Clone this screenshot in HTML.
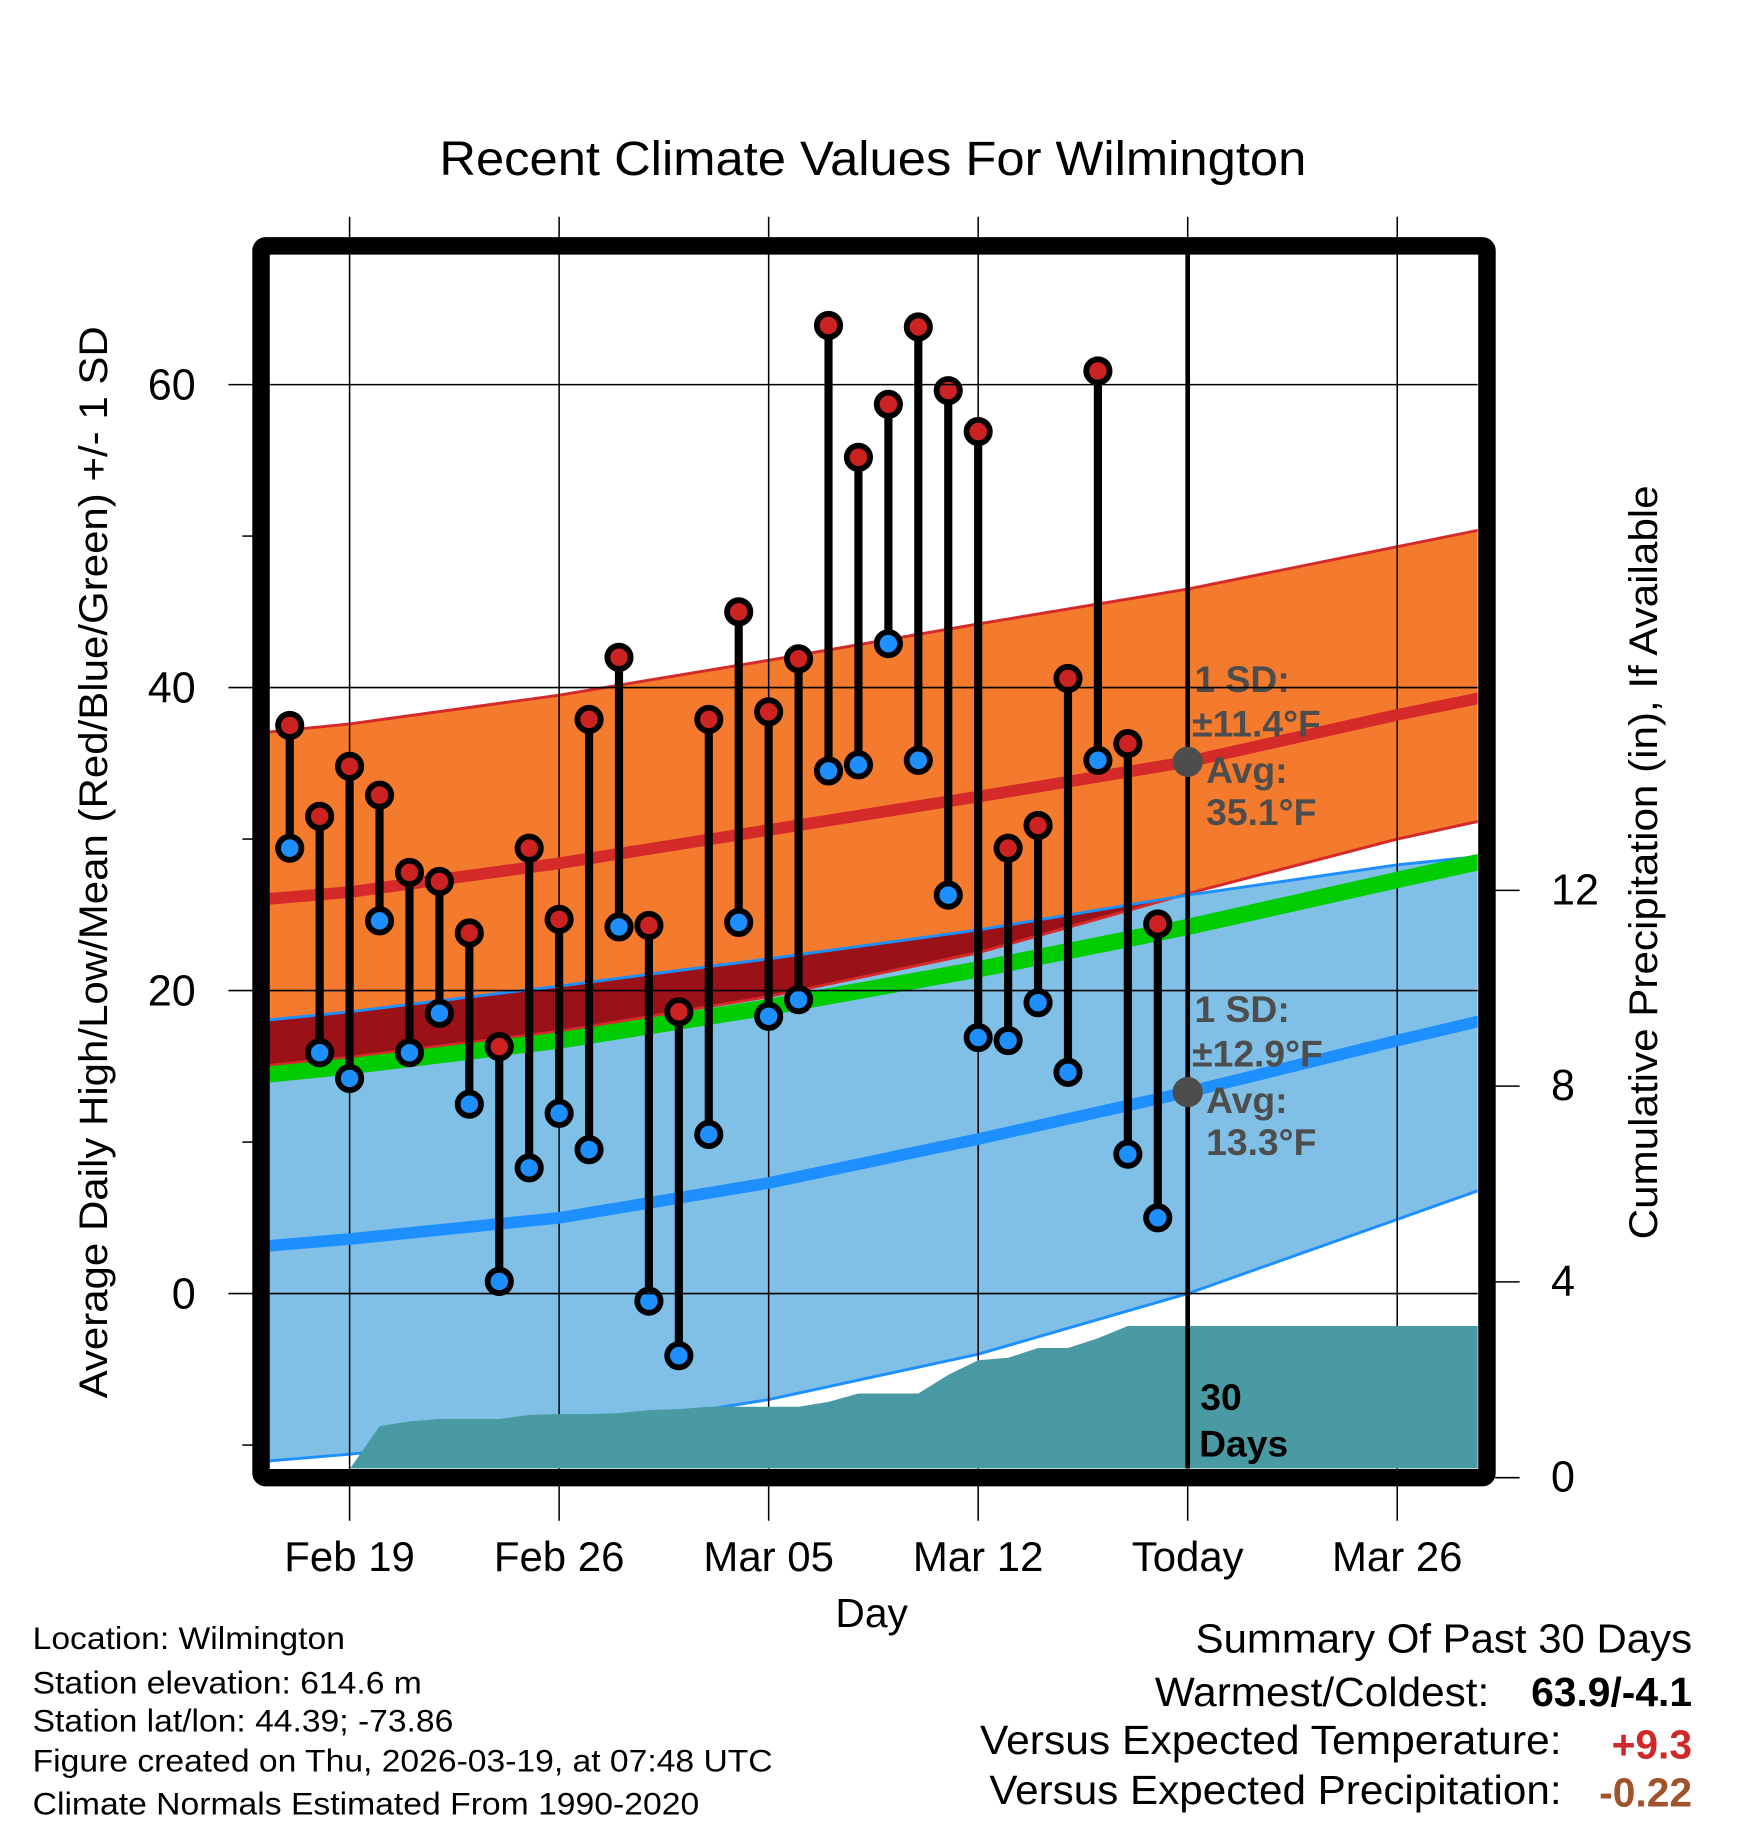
<!DOCTYPE html>
<html><head><meta charset="utf-8"><style>
html,body{margin:0;padding:0;background:#fff}
svg{display:block}
text{font-family:"Liberation Sans",Arial,sans-serif}
</style></head><body>
<svg id="chart" width="1748" height="1828" viewBox="0 0 1500 1568.6" preserveAspectRatio="none" xmlns="http://www.w3.org/2000/svg">
<defs><clipPath id="plotclip"><rect x="231" y="218" width="1037" height="1042"/></clipPath></defs>
<g id="layer" clip-path="url(#plotclip)"></g>
<g id="axes"></g>
<text x="377" y="150" font-size="41" textLength="744" lengthAdjust="spacingAndGlyphs">Recent Climate Values For Wilmington</text>
<text transform="translate(92,740) rotate(-90)" font-size="34" text-anchor="middle" textLength="920" lengthAdjust="spacingAndGlyphs">Average Daily High/Low/Mean (Red/Blue/Green) +/- 1 SD</text>
<text transform="translate(1422,740) rotate(-90)" font-size="34" text-anchor="middle" textLength="647" lengthAdjust="spacingAndGlyphs">Cumulative Precipitation (in), If Available</text>
<text x="748" y="1396" font-size="35" text-anchor="middle">Day</text>
<g font-size="27">
<text x="28" y="1415" textLength="268" lengthAdjust="spacingAndGlyphs">Location: Wilmington</text>
<text x="28" y="1453" textLength="334" lengthAdjust="spacingAndGlyphs">Station elevation: 614.6 m</text>
<text x="28" y="1486" textLength="361" lengthAdjust="spacingAndGlyphs">Station lat/lon: 44.39; -73.86</text>
<text x="28" y="1520" textLength="635" lengthAdjust="spacingAndGlyphs">Figure created on Thu, 2026-03-19, at 07:48 UTC</text>
<text x="28" y="1557" textLength="572" lengthAdjust="spacingAndGlyphs">Climate Normals Estimated From 1990-2020</text>
</g>
<g font-size="35">
<text x="1026" y="1418" textLength="426" lengthAdjust="spacingAndGlyphs">Summary Of Past 30 Days</text>
<text x="991" y="1464" textLength="287" lengthAdjust="spacingAndGlyphs">Warmest/Coldest:</text>
<text x="1452" y="1464" text-anchor="end" font-weight="bold">63.9/-4.1</text>
<text x="841" y="1505" textLength="499" lengthAdjust="spacingAndGlyphs">Versus Expected Temperature:</text>
<text x="1452" y="1509" text-anchor="end" font-weight="bold" fill="#d02828">+9.3</text>
<text x="849" y="1548" textLength="491" lengthAdjust="spacingAndGlyphs">Versus Expected Precipitation:</text>
<text x="1452" y="1550" text-anchor="end" font-weight="bold" fill="#a0522d">-0.22</text>
</g>
<script>
const days=[-2,-1,0,1,2,3,4,5,6,7,8,9,10,11,12,13,14,15,16,17,18,19,20,21,22,23,24,25,26,27];
const highs=[37.5,31.5,34.8,32.9,27.8,27.2,23.8,16.3,29.4,24.7,37.9,42.0,24.3,18.6,37.9,45.0,38.4,41.9,63.9,55.2,58.7,63.8,59.6,56.9,29.4,30.9,40.6,60.9,36.3,24.4];
const lows=[29.4,15.9,14.2,24.6,15.9,18.5,12.5,0.8,8.3,11.9,9.5,24.2,-0.5,-4.1,10.5,24.5,18.3,19.4,34.5,34.9,42.9,35.2,26.3,16.9,16.7,19.2,14.6,35.2,9.2,5.0];
const precipDays=[-2,-1,-0.2,1,2,3,4,5,6,7,8,9,10,11,12,13,14,15,16,17,18,19,20,21,22,23,24,25,26,27,28,38];
const precip=[0,0,0,1.05,1.15,1.2,1.2,1.2,1.28,1.3,1.3,1.32,1.38,1.4,1.45,1.45,1.45,1.45,1.55,1.72,1.72,1.72,2.1,2.4,2.45,2.65,2.65,2.85,3.1,3.1,3.1,3.1];
const normDays=[-3,0,7,14,21,28,35,38];
const highAvg=[26.0,26.5,28.4,30.6,32.8,35.1,38.2,39.4];
const highUpper=[37.0,37.6,39.5,41.8,44.2,46.5,49.3,50.5];
const highLower=[15.0,15.6,17.3,19.6,22.5,26.4,30.0,31.3];
const lowAvg=[3.1,3.6,5.0,7.3,10.2,13.3,16.7,18.1];
const lowUpper=[18.0,18.6,20.3,22.1,24.0,26.3,28.3,28.9];
const lowLower=[-11.1,-10.6,-9.2,-7.0,-4.0,0.0,4.9,7.0];
const meanT=[14.4,15.0,16.7,18.9,21.4,24.2,27.3,28.6];
const yTicks=[0,20,40,60];
const yMinor=[-10,10,30,50];
const pTicks=[0,4,8,12];
const xTickDays=[0,7,14,21,28,35];
const xTickLabels=["Feb 19","Feb 26","Mar 05","Mar 12","Today","Mar 26"];
const todayDay=28;

const X=d=>300+d*(899/35);
const Y=t=>1110-t*13;
const P=p=>1268-p*42;
const NS='http://www.w3.org/2000/svg';
const layer=document.getElementById('layer');
const axes=document.getElementById('axes');
function mk(tag,attrs,parent){const e=document.createElementNS(NS,tag);for(const k in attrs)e.setAttribute(k,attrs[k]);parent.appendChild(e);return e;}
function line(vals){return normDays.map((d,i)=>X(d)+','+Y(vals[i])).join(' ');}
function band(up,lo){return normDays.map((d,i)=>X(d)+','+Y(up[i])).concat(normDays.slice().reverse().map((d,j)=>{const i=normDays.length-1-j;return X(d)+','+Y(lo[i]);})).join(' ');}

const clipB=mk('clipPath',{id:'lowclip'},document.querySelector('defs'));
mk('polygon',{points:band(lowUpper,lowLower)},clipB);

let e;
e=mk('polygon',{points:band(lowUpper,lowLower),fill:'#80c0e6'},layer);


e=mk('polygon',{points:band(highUpper,highLower),fill:'#f47a2e'},layer);


e=mk('polygon',{points:band(highUpper,highLower),fill:'#9a1118','clip-path':'url(#lowclip)'},layer);


[[highUpper,'#d42a2a'],[highLower,'#d42a2a'],[lowUpper,'#1e8fff'],[lowLower,'#1e8fff']].forEach(([v,c])=>{
  e=mk('polyline',{points:line(v),fill:'none',stroke:c,'stroke-width':2.5},layer);
  
  
});
yTicks.forEach(t=>{e=mk('line',{x1:196,x2:1268,y1:Y(t),y2:Y(t),stroke:'#000','stroke-width':1.3},axes);
  
  });
const vg=document.createElementNS(NS,'g');
document.getElementById('chart').insertBefore(vg,axes);
xTickDays.forEach(d=>{e=mk('line',{x1:X(d),x2:X(d),y1:186,y2:1305,stroke:'#000','stroke-width':1.3},vg);
  
  });
const pp=precipDays.map((d,i)=>X(d)+','+P(precip[i]));
pp.push(X(38)+','+P(0));pp.unshift(X(-2)+','+P(0));
const pg=mk('g',{'clip-path':'url(#plotclip)'},document.getElementById('chart'));
document.getElementById('chart').insertBefore(pg,axes);
e=mk('polygon',{points:pp.join(' '),fill:'#4a9aa3'},pg);


e=mk('polyline',{points:line(meanT),fill:'none',stroke:'#00cc00','stroke-width':14},pg);


e=mk('polyline',{points:line(highAvg),fill:'none',stroke:'#d42a2a','stroke-width':10},pg);


e=mk('polyline',{points:line(lowAvg),fill:'none',stroke:'#1e8fff','stroke-width':10},pg);


e=mk('line',{x1:X(todayDay),x2:X(todayDay),y1:218,y2:1262,stroke:'#000','stroke-width':4},pg);


days.forEach((d,i)=>{
  e=mk('line',{x1:X(d),x2:X(d),y1:Y(highs[i]),y2:Y(lows[i]),stroke:'#000','stroke-width':7},pg);
  
  
});
days.forEach((d,i)=>{
  e=mk('circle',{cx:X(d),cy:Y(highs[i]),r:10,fill:'#cc2222',stroke:'#000','stroke-width':5},pg);
  
  
  e=mk('circle',{cx:X(d),cy:Y(lows[i]),r:10,fill:'#1e8fff',stroke:'#000','stroke-width':5},pg);
  
  
});
const ann=mk('g',{fill:'#4d4d4d','font-weight':'bold','font-size':32},pg);


[[highAvg[5],'11.4','35.1',584],[lowAvg[5],'12.9','13.3',867]].forEach(([v,sd,av,y0])=>{
  e=mk('circle',{cx:X(todayDay),cy:Y(v),r:13,fill:'#4d4d4d'},ann);
  
  
  [['1 SD:',1025,y0+10],['±'+sd+'°F',1023,y0+48],['Avg:',1035,y0+88],[av+'°F',1035,y0+124]].forEach(([t,x,y])=>{
    e=mk('text',{x:x,y:y},ann);e.textContent=t;
    
    
  });
});
e=mk('text',{x:1030,y:1210,'font-size':32,'font-weight':'bold'},pg);e.textContent='30';


e=mk('text',{x:1029,y:1250,'font-size':32,'font-weight':'bold'},pg);e.textContent='Days';


e=mk('rect',{x:224,y:211,width:1052,height:1057,fill:'none',stroke:'#000','stroke-width':15,rx:4},axes);


yTicks.forEach(t=>{e=mk('text',{x:168,y:Y(t)+13,'font-size':37,'text-anchor':'end'},axes);e.textContent=t;
  
  });
yMinor.forEach(t=>{e=mk('line',{x1:208,x2:217,y1:Y(t),y2:Y(t),stroke:'#000','stroke-width':1.3},axes);
  
  });
pTicks.forEach(p=>{e=mk('line',{x1:1283,x2:1304,y1:P(p),y2:P(p),stroke:'#000','stroke-width':1.3},axes);
  
  
  e=mk('text',{x:1331,y:P(p)+12,'font-size':37},axes);e.textContent=p;
  
  });
xTickDays.forEach((d,i)=>{e=mk('text',{x:X(d),y:1348,'font-size':36,'text-anchor':'middle'},axes);e.textContent=xTickLabels[i];
  
  });
</script>
</svg>
</body></html>
